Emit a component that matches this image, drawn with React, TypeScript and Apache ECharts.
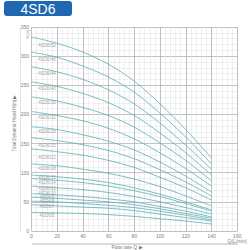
import React, { useEffect, useRef } from "react";
import * as echarts from "echarts";

const flowQ = [0, 20, 40, 60, 80, 100, 120, 140];
const models = ["4SD6/52", "4SD6/48", "4SD6/44", "4SD6/40", "4SD6/36", "4SD6/32", "4SD6/28", "4SD6/25", "4SD6/22", "4SD6/18", "4SD6/15", "4SD6/14", "4SD6/12", "4SD6/10", "4SD6/9", "4SD6/8", "4SD6/7", "4SD6/5"];
const h52 = [333, 322, 307, 286, 257, 218, 174, 125];
const h48 = [307, 298, 283, 264, 238, 202, 161, 115];
const h44 = [282, 273, 260, 242, 218, 185, 147, 106];
const h40 = [256, 248, 236, 220, 198, 168, 134, 96];
const h36 = [230, 223, 212, 198, 178, 151, 121, 86];
const h32 = [205, 198, 189, 176, 158, 134, 107, 77];
const h28 = [179, 174, 165, 154, 139, 118, 94, 67];
const h25 = [160, 155, 148, 138, 124, 105, 84, 60];
const h22 = [141, 136, 130, 121, 109, 92, 74, 53];
const h18 = [115, 112, 106, 99, 89, 76, 60, 43];
const h15 = [96, 93, 89, 83, 74, 63, 50, 36];
const h14 = [90, 87, 83, 77, 69, 59, 47, 34];
const h12 = [77, 74, 71, 66, 59, 50, 40, 29];
const h10 = [64, 62, 59, 55, 50, 42, 34, 24];
const h9 = [58, 56, 53, 50, 45, 38, 30, 22];
const h8 = [51, 50, 47, 44, 40, 34, 27, 19];
const h7 = [45, 43, 41, 39, 35, 29, 23, 17];
const h5 = [32, 31, 30, 28, 25, 21, 17, 12];
const heads = [h52, h48, h44, h40, h36, h32, h28, h25, h22, h18, h15, h14, h12, h10, h9, h8, h7, h5];
const labelQ = 12;
const labelH = [318, 294, 270, 244, 220, 195, 171, 147, 126, 108, 91, 83, 73, 65, 57, 51, 42, 27];
const xTicks = [0, 20, 40, 60, 80, 100, 120, 140, 160];
const yTicks = [0, 50, 100, 150, 200, 250, 300, 350];
const xUnit = "Q(L/min)";

const FONT = "'Liberation Sans', Arial, sans-serif";
const CURVE = "#5aaeb6";

export default function App() {
  const ref = useRef<HTMLDivElement>(null);
  useEffect(() => {
    if (!ref.current) return;
    const chart = echarts.init(ref.current, undefined, { renderer: "svg" });
    const lineSeries = models.map((m, i) => ({
      type: "line",
      name: m,
      data: flowQ.map((q, j) => [q, heads[i][j]]),
      smooth: 0.3,
      symbol: "none",
      silent: true,
      lineStyle: { color: CURVE, width: 0.8 },
    }));
    const labelSeries = {
      type: "scatter",
      symbolSize: 0,
      silent: true,
      data: models.map((m, i) => [labelQ, labelH[i], m]),
      label: {
        show: true,
        position: "inside",
        formatter: (p: any) => p.data[2],
        fontSize: 4.5,
        color: "#8a8a8a",
        fontFamily: FONT,
      },
    };
    chart.setOption({
      animation: false,
      grid: { left: 31.5, right: 12, top: 27, bottom: 19, containLabel: false },
      xAxis: {
        type: "value",
        min: 0,
        max: 160,
        interval: 20,
        axisLine: { show: false },
        axisTick: { show: false },
        axisLabel: {
          fontSize: 5,
          lineHeight: 5,
          color: "#808080",
          margin: 2,
          fontFamily: FONT,
          formatter: (v: number) => (v === 160 ? `${v}\n${xUnit}` : xTicks.includes(v) ? String(v) : ""),
        },
        splitLine: { show: true, lineStyle: { color: "#a6a6a6", width: 0.7 } },
        minorTick: { show: false, splitNumber: 5 },
        minorSplitLine: { show: true, lineStyle: { color: "#e0e0e0", width: 0.5 } },
      },
      yAxis: {
        type: "value",
        min: 0,
        max: 350,
        interval: 50,
        axisLine: { show: false },
        axisTick: { show: false },
        axisLabel: {
          fontSize: 5,
          color: "#808080",
          margin: 2.5,
          fontFamily: FONT,
          formatter: (v: number) => (yTicks.includes(v) ? String(v) : ""),
        },
        splitLine: { show: true, lineStyle: { color: "#a6a6a6", width: 0.7 } },
        minorTick: { show: false, splitNumber: 5 },
        minorSplitLine: { show: true, lineStyle: { color: "#e0e0e0", width: 0.5 } },
      },
      graphic: [
        {
          type: "rect",
          shape: { x: 4, y: 1, width: 68, height: 15, r: 3 },
          style: { fill: "#1f67b1" },
        },
        {
          type: "text",
          x: 38,
          y: 9,
          style: {
            text: "4SD6",
            fill: "#ffffff",
            font: `14px ${FONT}`,
            align: "center",
            verticalAlign: "middle",
          },
        },
        {
          type: "text",
          x: 27,
          y: 34,
          rotation: Math.PI / 2,
          style: { text: "H(m)", fill: "#8a8a8a", font: `4px ${FONT}`, align: "center", verticalAlign: "middle" },
        },
        {
          type: "text",
          x: 14,
          y: 123,
          rotation: Math.PI / 2,
          style: {
            text: "Total Dynamic Head H(m) ▶",
            fill: "#7a7a7a",
            font: `4.5px ${FONT}`,
            align: "center",
            verticalAlign: "middle",
          },
        },
        {
          type: "line",
          shape: { x1: 20.5, y1: 27, x2: 20.5, y2: 231 },
          style: { stroke: "#d0d0d0", lineWidth: 0.6 },
        },
        {
          type: "line",
          shape: { x1: 32, y1: 244, x2: 238, y2: 244 },
          style: { stroke: "#9a9a9a", lineWidth: 0.7 },
        },
        {
          type: "text",
          x: 127,
          y: 247.3,
          style: { text: "Flow rate Q ▶", fill: "#7a7a7a", font: `5px ${FONT}`, align: "center", verticalAlign: "middle" },
        },
      ],
      series: [...lineSeries, labelSeries],
    });
    return () => chart.dispose();
  }, []);
  return <div ref={ref} style={{ position: "fixed", left: 0, top: 0, width: 250, height: 250, background: "#fff" }} />;
}
